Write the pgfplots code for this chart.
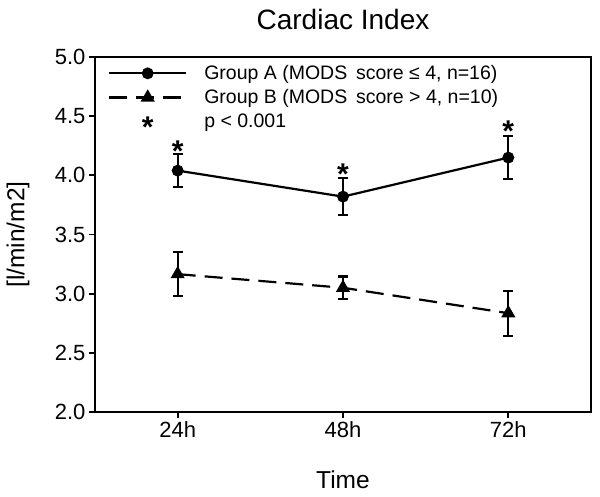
\documentclass[border=0pt]{standalone}
\usepackage{pgfplots}
\usepackage{pgfplotstable}
\pgfplotsset{compat=1.18}
\usepackage{fontspec}
\setmainfont{Liberation Sans}

\pgfplotstableread{
x y e
0 4.04 0.14
1 3.82 0.155
2 4.15 0.18
}\groupA
\pgfplotstableread{
x y e
0 3.165 0.185
1 3.05 0.095
2 2.835 0.19
}\groupB
\pgfplotstableread{
x y
0 4.26
1 4.07
2 4.43
}\stars

\begin{document}
\begin{tikzpicture}
\begin{axis}[
  at={(0,0)}, anchor=south west,
  width=496pt, height=355pt, scale only axis,
  xmin=-0.5, xmax=2.5, ymin=2, ymax=5,
  xtick={0,1,2}, xticklabels={24h,48h,72h},
  ytick={2,2.5,3,3.5,4,4.5,5},
  yticklabel style={/pgf/number format/.cd, fixed, fixed zerofill, precision=1},
  /pgf/number format/assume math mode=true,
  tick align=outside, tick pos=left,
  major tick length=6pt,
  axis line style={line width=1.8pt},
  every tick/.style={line width=1.8pt, black},
  tick label style={font=\fontsize{22}{26}\selectfont, black},
  title={Cardiac Index},
  title style={font=\fontsize{28}{32}\selectfont, at={(axis description cs:0.5,1.09)}, anchor=center},
  xlabel={Time},
  xlabel style={font=\fontsize{24.5}{28}\selectfont, at={(axis description cs:0.5,-0.19)}, anchor=center},
  ylabel={[l/min/m2]},
  ylabel style={font=\fontsize{24.5}{28}\selectfont, at={(axis description cs:-0.155,0.5)}, anchor=center},
  legend style={at={(axis description cs:0.02,0.985)}, anchor=north west, draw=none, fill=none,
     font=\fontsize{19.5}{22}\selectfont, row sep=6.5pt, column sep=16pt, nodes={inner sep=1pt}},
  legend cell align=left,
  legend image code/.code={\draw[mark repeat=2,mark phase=2,#1] plot coordinates {(0pt,0pt) (38.5pt,0pt) (77pt,0pt)};},
  clip=false,
]
\addplot[black, line width=2.2pt, mark=*, mark size=4.8pt, mark options={solid},
  error bars/.cd, y dir=both, y explicit,
  error bar style={line width=2.2pt, solid},
  error mark options={rotate=90, mark size=5pt, line width=2.2pt, solid}]
  table[x=x, y=y, y error=e]{\groupA};
\addlegendentry{Group A (MODS\hspace{0.45em}score ≤ 4, n=16)}
\addplot[black, line width=2.2pt, dash pattern=on 18pt off 9pt, mark=triangle*, mark size=6pt, mark options={solid},
  error bars/.cd, y dir=both, y explicit,
  error bar style={line width=2.2pt, solid},
  error mark options={rotate=90, mark size=5pt, line width=2.2pt, solid}]
  table[x=x, y=y, y error=e]{\groupB};
\addlegendentry{Group B (MODS\hspace{0.45em}score > 4, n=10)}
\addplot[black, only marks, mark=text, text mark as node=true,
  text mark={\smash{\raisebox{-0.58em}{*}}},
  text mark style={font=\fontsize{30}{32}\selectfont\bfseries, inner sep=0pt, anchor=center}]
  table[x=x, y=y]{\stars};
\addlegendentry{p < 0.001}
\end{axis}
\path (-95pt,-84pt) rectangle (505pt,412pt);
\end{tikzpicture}
\end{document}
